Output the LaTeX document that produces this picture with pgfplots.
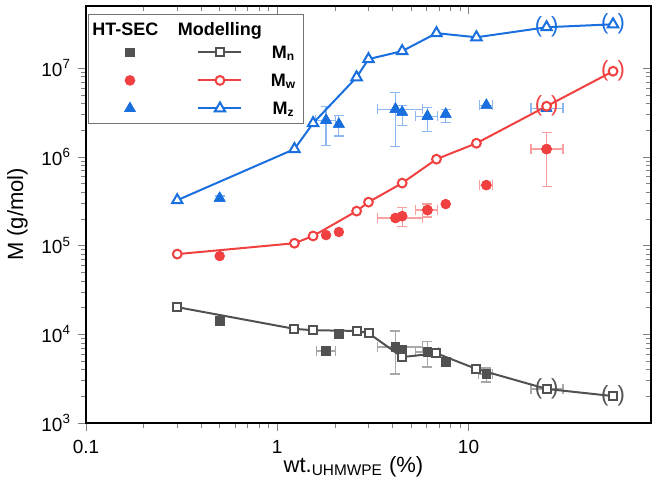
\documentclass[border=0pt]{standalone}
\usepackage{fontspec}
\setmainfont{Liberation Sans}
\usepackage{pgfplots}
\pgfplotsset{compat=1.18}
\definecolor{cgray}{HTML}{515151}
\definecolor{cred}{HTML}{F14040}
\definecolor{cblue}{HTML}{1A6FDF}
\pgfplotsset{
  ebx/.style={error bars/.cd, x dir=both, x explicit,
    error bar style={#1, line width=0.6pt},
    error mark options={rotate=90, #1, mark size=2.5pt, line width=0.6pt}},
  eby/.style={error bars/.cd, y dir=both, y explicit,
    error bar style={#1, line width=0.6pt},
    error mark options={rotate=90, #1, mark size=2.5pt, line width=0.6pt}},
  hdr/.style={legend image code/.code={\node[anchor=base, inner sep=0pt, text height=10.25pt, text depth=1.25pt, font=\fontsize{9}{10}\selectfont\bfseries] at (10.75pt,-3.25pt) {#1};}},
  htleg/.style={legend image code/.code={\draw[##1] plot coordinates {(13pt,0pt)};}},
  modleg/.style={legend image code/.code={\draw[mark repeat=2, mark phase=2, ##1] plot coordinates {(0pt,0pt) (10.75pt,0pt) (21.5pt,0pt)};}},
}
\begin{document}
\begin{tikzpicture}
\path[use as bounding box] (-43pt,-28.5pt) rectangle (286.5pt,211.5pt);
\begin{axis}[xmode=log, ymode=log, scale only axis,
  width=282.5pt, height=208.5pt,
  xmin=0.1, xmax=90, ymin=1e3, ymax=5e7,
  xtick={0.1,1,10}, ytick={1e3,1e4,1e5,1e6,1e7},
  major tick length=4pt, minor tick length=2.5pt,
  axis line style={line width=0.7pt},
  name=main,
  tick align=outside, xtick pos=bottom, ytick pos=left,
  xticklabels={0.1,1,10},
  yticklabels={10\textsuperscript{3},10\textsuperscript{4},10\textsuperscript{5},10\textsuperscript{6},10\textsuperscript{7}},
  tick label style={font=\fontsize{9.5}{11}\selectfont},
  xticklabel style={yshift=-1pt},
  xlabel={wt.\textsubscript{UHMWPE} (\%)},
  ylabel={M (g/mol)},
  label style={font=\fontsize{11}{12}\selectfont},
  xlabel style={yshift=5.5pt, xshift=-7.5pt},
  legend columns=2,
  legend style={at={(0.0035,0.981)}, anchor=north west, draw=black!55, line width=0.5pt,
    font=\fontsize{9}{10}\selectfont\bfseries, inner xsep=2pt, inner ysep=0.5pt,
    row sep=0pt, nodes={inner sep=1.5pt},
    /tikz/every even column/.append style={column sep=5.75pt},
    /tikz/every odd column/.append style={column sep=3pt}},
]
% ---------- legend ----------
\addlegendimage{hdr=HT-SEC}\addlegendentry[inner sep=0pt, text height=0pt, text depth=0pt]{}
\addlegendimage{hdr=Modelling}\addlegendentry[inner sep=0pt, text height=0pt, text depth=0pt]{}
\addlegendimage{only marks, mark=square*, mark size=2.2pt, cgray, htleg}\addlegendentry[inner sep=0pt, text height=0pt, text depth=0pt]{}
\addlegendimage{cgray, line width=1pt, mark=square*, mark size=2pt, mark options={fill=white}, modleg}\addlegendentry[text height=8.75pt, text depth=2.25pt]{M\textsubscript{n}}
\addlegendimage{only marks, mark=*, mark size=2.4pt, cred, htleg}\addlegendentry[inner sep=0pt, text height=0pt, text depth=0pt]{}
\addlegendimage{cred, line width=1pt, mark=*, mark size=2.2pt, mark options={fill=white}, modleg}\addlegendentry[text height=8.75pt, text depth=2.25pt]{M\textsubscript{w}}
\addlegendimage{only marks, mark=triangle*, mark size=3pt, cblue, htleg}\addlegendentry[inner sep=0pt, text height=0pt, text depth=0pt]{}
\addlegendimage{cblue, line width=1pt, mark=triangle*, mark size=3pt, mark options={fill=white}, modleg}\addlegendentry[text height=8.75pt, text depth=2.25pt]{M\textsubscript{z}}

% ---------- HT-SEC error bars ----------
% Mn
\addplot[forget plot, only marks, mark=square*, mark size=2.2pt, cgray, ebx=cgray!50]
 table[x error plus=xp, x error minus=xm] {
x y xp xm
1.8 6470 0.21 0.19
4.15 7180 1.59 0.81
6.1 6300 0.9 0.8
12.4 3570 1.0 1.1
25.6 2420 5.6 4.4
};
\addplot[forget plot, only marks, mark=square*, mark size=2.2pt, cgray, eby=cgray!50]
 table[y error plus=yp, y error minus=ym] {
x y yp ym
4.15 7180 3720 3610
6.1 6300 1900 2030
12.4 3570 590 670
};
% Mw
\addplot[forget plot, only marks, mark=*, mark size=2.4pt, cred, ebx=cred!50]
 table[x error plus=xp, x error minus=xm] {
x y xp xm
4.15 204000 1.59 0.81
6.1 251000 0.8 0.8
12.4 479000 1.0 1.0
25.6 1220000 5.6 4.4
};
\addplot[forget plot, only marks, mark=*, mark size=2.4pt, cred, eby=cred!50]
 table[y error plus=yp, y error minus=ym] {
x y yp ym
4.5 214000 56000 49000
6.1 251000 42000 42000
25.6 1220000 670000 753000
};
% Mz
\addplot[forget plot, only marks, mark=triangle*, mark size=3pt, cblue, ebx=cblue!50]
 table[x error plus=xp, x error minus=xm] {
x y xp xm
1.8 2580000 0.21 0.22
4.15 3440000 1.59 0.81
6.1 2860000 0.8 0.8
12.4 3810000 1.0 1.0
25.6 3520000 5.6 4.4
};
\addplot[forget plot, only marks, mark=triangle*, mark size=3pt, cblue, eby=cblue!50]
 table[y error plus=yp, y error minus=ym] {
x y yp ym
0.5 342000 20000 30000
1.8 2580000 1120000 1230000
2.1 2330000 610000 620000
4.15 3440000 1890000 2130000
4.5 3180000 620000 910000
6.1 2860000 760000 920000
7.6 3020000 420000 570000
25.6 3520000 300000 300000
};

% ---------- HT-SEC markers ----------
\addplot[forget plot, only marks, mark=square*, mark size=2.2pt, cgray] table {
x y
0.5 14100
1.8 6470
2.1 10000
4.15 7180
4.5 6640
6.1 6300
7.6 4860
12.4 3570
25.6 2420
};
\addplot[forget plot, only marks, mark=*, mark size=2.4pt, cred] table {
x y
0.5 76000
1.8 131000
2.1 142000
4.15 204000
4.5 214000
6.1 251000
7.6 293000
12.4 479000
25.6 1220000
};
\addplot[forget plot, only marks, mark=triangle*, mark size=3pt, cblue] table {
x y
0.5 342000
1.8 2580000
2.1 2330000
4.15 3440000
4.5 3180000
6.1 2860000
7.6 3020000
12.4 3810000
25.6 3520000
};

% ---------- Modelling ----------
\addplot[forget plot, cgray, line width=1pt, mark=square*, mark size=2pt, mark options={fill=white}] table {
x y
0.3 20200
1.23 11500
1.54 11100
2.6 10900
3.0 10300
4.5 5530
6.8 6100
11 4060
25.6 2420
57 2010
};
\addplot[forget plot, cred, line width=1pt, mark=*, mark size=2.2pt, mark options={fill=white}] table {
x y
0.3 80000
1.23 106000
1.54 128000
2.6 244000
3.0 308000
4.5 505000
6.8 940000
11 1420000
25.6 3710000
57 9200000
};
\addplot[forget plot, cblue, line width=1pt, mark=triangle*, mark size=3pt, mark options={fill=white}] table {
x y
0.3 324000
1.23 1220000
1.54 2390000
2.6 7870000
3.0 12600000
4.5 15500000
6.8 24700000
11 22200000
25.6 28800000
57 31100000
};
% parentheses around the two extrapolated points
\addplot[forget plot, only marks, mark=text, text mark={(\hspace{4.5pt})}, text mark as node=true,
  text mark style={font=\fontsize{11}{11}\selectfont, text=cgray, inner sep=0pt}] table {
x y
25.6 2420
57 2010
};
\addplot[forget plot, only marks, mark=text, text mark={(\hspace{4.5pt})}, text mark as node=true,
  text mark style={font=\fontsize{11}{11}\selectfont, text=cred, inner sep=0pt}] table {
x y
25.6 3710000
57 9200000
};
\addplot[forget plot, only marks, mark=text, text mark={(\hspace{4.5pt})}, text mark as node=true,
  text mark style={font=\fontsize{11}{11}\selectfont, text=cblue, inner sep=0pt}] table {
x y
25.6 28800000
57 31100000
};
\end{axis}
\begin{axis}[xmode=log, ymode=log, scale only axis,
  width=282.5pt, height=208.5pt,
  xmin=0.1, xmax=90, ymin=1e3, ymax=5e7,
  xtick={0.1,1,10}, ytick={1e3,1e4,1e5,1e6,1e7},
  major tick length=4pt, minor tick length=2.5pt,
  axis line style={line width=0.7pt},
  tick align=inside, xtick pos=top, ytick pos=right,
  xticklabels={}, yticklabels={}]
\end{axis}
\end{tikzpicture}
\end{document}
